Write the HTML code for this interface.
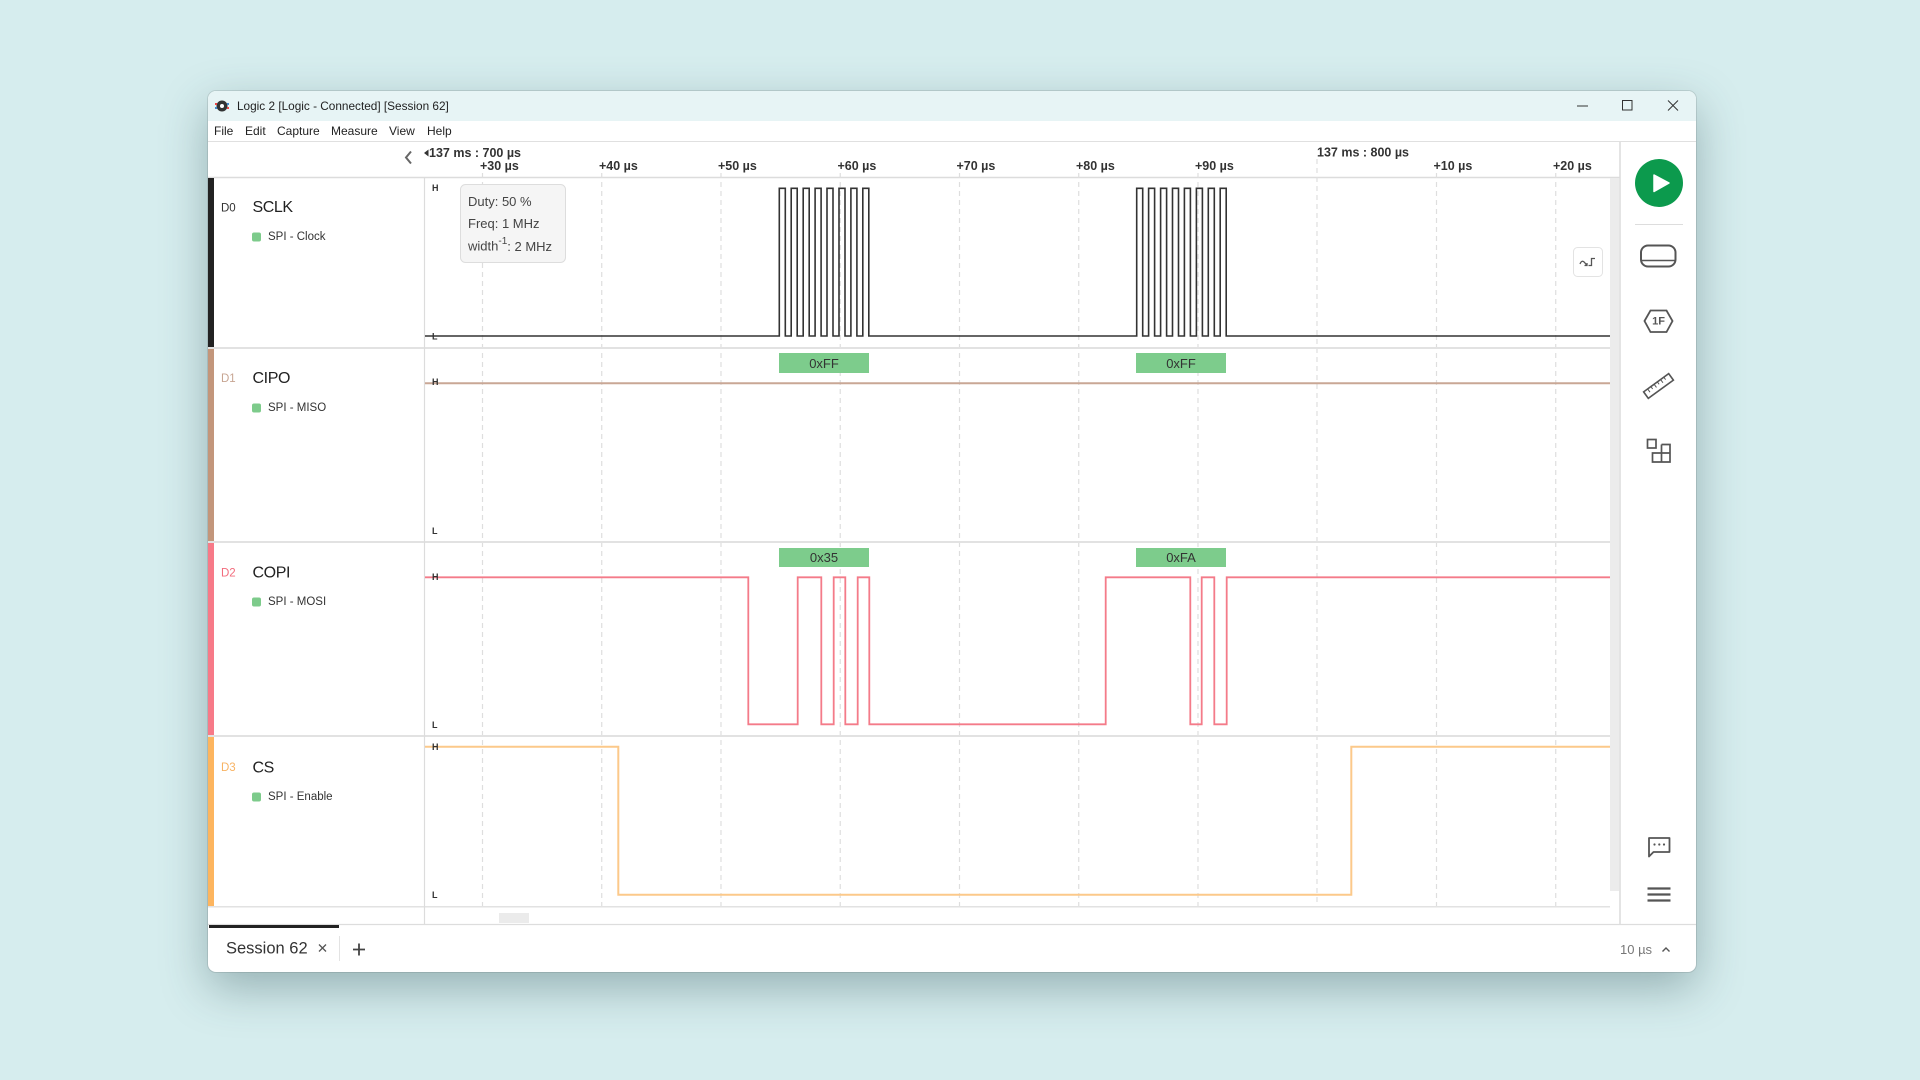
<!DOCTYPE html>
<html><head><meta charset="utf-8"><style>
html,body{margin:0;padding:0;width:1920px;height:1080px;overflow:hidden;background:#d6edee;font-family:"Liberation Sans",sans-serif;}
#win{position:absolute;left:208px;top:91px;width:1488px;height:881px;background:#fff;border-radius:8px;box-shadow:0 16px 46px rgba(45,80,85,0.38),0 0 0 1px rgba(0,0,0,0.10);overflow:hidden}
#tb{position:absolute;left:0;top:0;width:1488px;height:30px;background:#e7f4f5}
svg{position:absolute;left:0;top:0}
</style></head><body>
<div id="win"><div id="tb"></div></div>
<svg width="1920" height="1080" xmlns="http://www.w3.org/2000/svg" font-family="Liberation Sans, sans-serif">
  <!-- title bar -->
  <circle cx="222" cy="106" r="5.5" fill="#333"/>
  <circle cx="222" cy="106" r="2" fill="#fff"/>
  <rect x="215" y="103" width="2" height="2" fill="#e44"/>
  <rect x="227" y="103" width="2" height="2" fill="#48c"/>
  <rect x="215" y="107" width="2" height="2" fill="#48c"/>
  <rect x="227" y="107" width="2" height="2" fill="#e44"/>
  <text x="237" y="106" font-size="11.8" fill="#222" dominant-baseline="central">Logic 2 [Logic - Connected] [Session 62]</text>
  <line x1="1577" y1="106" x2="1588" y2="106" stroke="#333" stroke-width="1"/>
  <rect x="1622.5" y="100.5" width="9.5" height="9.5" fill="none" stroke="#333" stroke-width="1"/>
  <path d="M1668 100.5 L1678 110.5 M1678 100.5 L1668 110.5" stroke="#333" stroke-width="1"/>
  <!-- menu -->
  <g font-size="12" fill="#222">
    <text x="214" y="131" dominant-baseline="central">File</text>
    <text x="245" y="131" dominant-baseline="central">Edit</text>
    <text x="277" y="131" dominant-baseline="central">Capture</text>
    <text x="331" y="131" dominant-baseline="central">Measure</text>
    <text x="389" y="131" dominant-baseline="central">View</text>
    <text x="427" y="131" dominant-baseline="central">Help</text>
  </g>
  <line x1="208" y1="141.5" x2="1696" y2="141.5" stroke="#e0e0e0" stroke-width="1"/>
  <line x1="208" y1="177.5" x2="1620" y2="177.5" stroke="#dcdcdc" stroke-width="1.5"/>

  <!-- header labels -->
  <path d="M411 151.5 L406 157.5 L411 163.5" fill="none" stroke="#666" stroke-width="2"/>
  <polygon points="424,153 428.5,149.5 428.5,156.5" fill="#333"/>
  <g font-size="12.5" font-weight="bold" fill="#333">
    <text x="429" y="153" dominant-baseline="central">137 ms : 700 µs</text>
    <text x="1317" y="152.5" dominant-baseline="central">137 ms : 800 µs</text>
    <text x="480" y="166" dominant-baseline="central">+30 µs</text>
    <text x="599" y="166" dominant-baseline="central">+40 µs</text>
    <text x="718" y="166" dominant-baseline="central">+50 µs</text>
    <text x="837.5" y="166" dominant-baseline="central">+60 µs</text>
    <text x="956.5" y="166" dominant-baseline="central">+70 µs</text>
    <text x="1076" y="166" dominant-baseline="central">+80 µs</text>
    <text x="1195" y="166" dominant-baseline="central">+90 µs</text>
    <text x="1433.5" y="166" dominant-baseline="central">+10 µs</text>
    <text x="1553" y="166" dominant-baseline="central">+20 µs</text>
  </g>

  <!-- grid dashed -->
  <g stroke="#dedede" stroke-width="1.2" stroke-dasharray="5 4">
    <line x1="482.5" y1="173" x2="482.5" y2="906"/>
    <line x1="601.75" y1="173" x2="601.75" y2="906"/>
    <line x1="721" y1="173" x2="721" y2="906"/>
    <line x1="840.25" y1="173" x2="840.25" y2="906"/>
    <line x1="959.5" y1="173" x2="959.5" y2="906"/>
    <line x1="1078.75" y1="173" x2="1078.75" y2="906"/>
    <line x1="1198" y1="173" x2="1198" y2="906"/>
    <line x1="1317" y1="159" x2="1317" y2="906"/>
    <line x1="1436.5" y1="173" x2="1436.5" y2="906"/>
    <line x1="1555.75" y1="173" x2="1555.75" y2="906"/>
  </g>

  <!-- channel color bars -->
  <rect x="208" y="178" width="6" height="169" fill="#222"/>
  <rect x="208" y="349" width="6" height="192" fill="#c3967b"/>
  <rect x="208" y="543" width="6" height="192" fill="#f77a88"/>
  <rect x="208" y="737" width="6" height="169" fill="#fdb55f"/>

  <!-- dividers -->
  <g fill="#e2e2e2">
    <rect x="208" y="347" width="1402" height="2"/>
    <rect x="208" y="541" width="1402" height="2"/>
    <rect x="208" y="735" width="1402" height="2"/>
    <rect x="208" y="906" width="1402" height="1.5"/>
  </g>
  <line x1="424.5" y1="178" x2="424.5" y2="924" stroke="#dcdcdc" stroke-width="1.2"/>
  <line x1="208" y1="924.5" x2="1696" y2="924.5" stroke="#dddddd" stroke-width="1.2"/>
  <line x1="1620" y1="142" x2="1620" y2="924" stroke="#dcdcdc" stroke-width="1.5"/>

  <!-- scrollbars -->
  <rect x="1610" y="178" width="9" height="713" fill="#ececec"/>
  <rect x="499" y="913" width="30" height="10" fill="#ebebeb"/>

  <!-- channel labels -->
  <g fill="#333">
    <text x="221" y="208.5" font-size="11.5" dominant-baseline="central">D0</text>
    <text x="252.5" y="207.5" font-size="16" fill="#222" dominant-baseline="central" letter-spacing="-0.4">SCLK</text>
    <rect x="252" y="232.5" width="9" height="9" rx="2" fill="#7dcb8b"/>
    <text x="268" y="237" font-size="11.5" dominant-baseline="central">SPI - Clock</text>

    <text x="221" y="379" font-size="11.5" fill="#c7a592" dominant-baseline="central">D1</text>
    <text x="252.5" y="378.5" font-size="16" fill="#222" dominant-baseline="central" letter-spacing="-0.4">CIPO</text>
    <rect x="252" y="403.5" width="9" height="9" rx="2" fill="#7dcb8b"/>
    <text x="268" y="408" font-size="11.5" dominant-baseline="central">SPI - MISO</text>

    <text x="221" y="573.5" font-size="11.5" fill="#f26c7d" dominant-baseline="central">D2</text>
    <text x="252.5" y="573" font-size="16" fill="#222" dominant-baseline="central" letter-spacing="-0.4">COPI</text>
    <rect x="252" y="597.5" width="9" height="9" rx="2" fill="#7dcb8b"/>
    <text x="268" y="602" font-size="11.5" dominant-baseline="central">SPI - MOSI</text>

    <text x="221" y="768" font-size="11.5" fill="#f8b363" dominant-baseline="central">D3</text>
    <text x="252.5" y="768" font-size="16" fill="#222" dominant-baseline="central" letter-spacing="-0.4">CS</text>
    <rect x="252" y="792.5" width="9" height="9" rx="2" fill="#7dcb8b"/>
    <text x="268" y="797" font-size="11.5" dominant-baseline="central">SPI - Enable</text>
  </g>

  <!-- waveforms -->
  <path fill="none" stroke="#333" stroke-width="1.6" d="M425 336 H779.3 V188.3 H785.3 V336 H791.2 V188.3 H797.2 V336 H803.2 V188.3 H809.2 V336 H815.1 V188.3 H821.1 V336 H827 V188.3 H833 V336 H839 V188.3 H845 V336 H850.9 V188.3 H856.9 V336 H862.8 V188.3 H868.8 V336 H1136.7 V188.3 H1142.7 V336 H1148.6 V188.3 H1154.6 V336 H1160.6 V188.3 H1166.6 V336 H1172.5 V188.3 H1178.5 V336 H1184.4 V188.3 H1190.4 V336 H1196.4 V188.3 H1202.4 V336 H1208.3 V188.3 H1214.3 V336 H1220.2 V188.3 H1226.2 V336 H1610"/>
  <line x1="425" y1="383.3" x2="1610" y2="383.3" stroke="#c9a795" stroke-width="2"/>
  <path fill="none" stroke="#f47b89" stroke-width="1.8" d="M425 577.3 H748.3 V724.3 H797.7 V577.3 H821.3 V724.3 H833.7 V577.3 H845.3 V724.3 H857.7 V577.3 H869.3 V724.3 H1105.7 V577.3 H1190.3 V724.3 H1201.7 V577.3 H1214.3 V724.3 H1226.7 V577.3 H1610"/>
  <path fill="none" stroke="#fcc98a" stroke-width="2" d="M425 746.7 H618.3 V894.7 H1351.3 V746.7 H1610"/>

  <!-- H/L markers -->
  <g font-size="9" font-weight="bold" fill="#333">
    <text x="432" y="188" dominant-baseline="central">H</text>
    <text x="432" y="336.5" dominant-baseline="central">L</text>
    <text x="432" y="382" dominant-baseline="central">H</text>
    <text x="432" y="531" dominant-baseline="central">L</text>
    <text x="432" y="577" dominant-baseline="central">H</text>
    <text x="432" y="725" dominant-baseline="central">L</text>
    <text x="432" y="747" dominant-baseline="central">H</text>
    <text x="432" y="895" dominant-baseline="central">L</text>
  </g>

  <!-- decoded data boxes -->
  <g fill="#7dcc8c">
    <rect x="779" y="353" width="90" height="20"/>
    <rect x="1136" y="353" width="90" height="20"/>
    <rect x="779" y="548" width="90" height="19"/>
    <rect x="1136" y="548" width="90" height="19"/>
  </g>
  <g font-size="13" fill="#333" text-anchor="middle">
    <text x="824" y="363.5" dominant-baseline="central">0xFF</text>
    <text x="1181" y="363.5" dominant-baseline="central">0xFF</text>
    <text x="824" y="557.5" dominant-baseline="central">0x35</text>
    <text x="1181" y="557.5" dominant-baseline="central">0xFA</text>
  </g>

  <!-- tooltip -->
  <rect x="460.5" y="184.5" width="105" height="78" rx="5" fill="#f5f5f5" stroke="#dddddd"/>
  <g font-size="13" fill="#444">
    <text x="468" y="201.5" dominant-baseline="central">Duty: 50 %</text>
    <text x="468" y="223.3" dominant-baseline="central">Freq: 1 MHz</text>
    <text x="468" y="246" dominant-baseline="central">width<tspan font-size="10" dy="-5">-1</tspan><tspan dy="5">: 2 MHz</tspan></text>
  </g>

  <!-- small button -->
  <rect x="1573.5" y="247.5" width="29" height="29" rx="4" fill="#fff" stroke="#e3e3e3"/>
  <path d="M1580 264 Q1582 259 1585 263 L1586.5 265 M1584.5 265.5 L1587 265.5 L1587 263" fill="none" stroke="#555" stroke-width="1.3"/>
  <path d="M1588.5 265.5 H1591.5 V258.5 H1595" fill="none" stroke="#555" stroke-width="1.3"/>

  <!-- sidebar -->
  <circle cx="1659" cy="183" r="24" fill="#0c9a4d"/>
  <path d="M1654 175 L1669 183 L1654 191.5 Z" fill="#fff" stroke="#fff" stroke-width="1.5" stroke-linejoin="round"/>
  <line x1="1635" y1="224.5" x2="1683" y2="224.5" stroke="#dddddd"/>
  <rect x="1641" y="245.5" width="34.5" height="21" rx="7" fill="none" stroke="#555" stroke-width="2"/>
  <line x1="1641" y1="260.5" x2="1675.5" y2="260.5" stroke="#555" stroke-width="1.6"/>
  <polygon points="1644.5,321 1650.5,310.5 1666.5,310.5 1672.5,321 1666.5,332 1650.5,332" fill="none" stroke="#555" stroke-width="1.8"/>
  <text x="1658.5" y="321.5" font-size="11" font-weight="bold" fill="#555" text-anchor="middle" dominant-baseline="central">1F</text>
  <g transform="rotate(-36 1658.5 386)">
    <rect x="1643" y="382" width="31" height="8" fill="none" stroke="#555" stroke-width="1.6"/>
    <path d="M1648 382 V386 M1652 382 V385 M1656 382 V386 M1660 382 V385 M1664 382 V386 M1668 382 V385" stroke="#555" stroke-width="1"/>
  </g>
  <g fill="none" stroke="#555" stroke-width="1.7">
    <rect x="1647.5" y="439.5" width="8.5" height="8.5"/>
    <path d="M1661.5 444.5 H1670 V462 H1652.5 V453 H1670 M1661.5 444.5 V462"/>
  </g>
  <path d="M1649 838 H1669.5 V852 H1653.5 L1649 856.5 Z" fill="none" stroke="#555" stroke-width="1.8" stroke-linejoin="round"/>
  <g fill="#555"><circle cx="1654.5" cy="844.5" r="1.1"/><circle cx="1659.3" cy="844.5" r="1.1"/><circle cx="1664" cy="844.5" r="1.1"/></g>
  <path d="M1647.5 888.5 H1670.5 M1647.5 894.5 H1670.5 M1647.5 900.5 H1670.5" stroke="#555" stroke-width="2.2"/>

  <!-- tab bar -->
  <rect x="209" y="925" width="130" height="3" fill="#222"/>
  <text x="226" y="948.5" font-size="16.5" fill="#333" dominant-baseline="central">Session 62</text>
  <path d="M319 944.5 L326 951.5 M326 944.5 L319 951.5" stroke="#555" stroke-width="1.3"/>
  <line x1="339.5" y1="936" x2="339.5" y2="961" stroke="#e3e3e3"/>
  <path d="M353 949.5 H365 M359 943.5 V955.5" stroke="#444" stroke-width="1.8"/>
  <text x="1620" y="949.5" font-size="13" fill="#777" dominant-baseline="central">10 µs</text>
  <path d="M1662.5 951.5 L1666 948 L1669.5 951.5" fill="none" stroke="#555" stroke-width="1.4"/>
</svg>
</body></html>
